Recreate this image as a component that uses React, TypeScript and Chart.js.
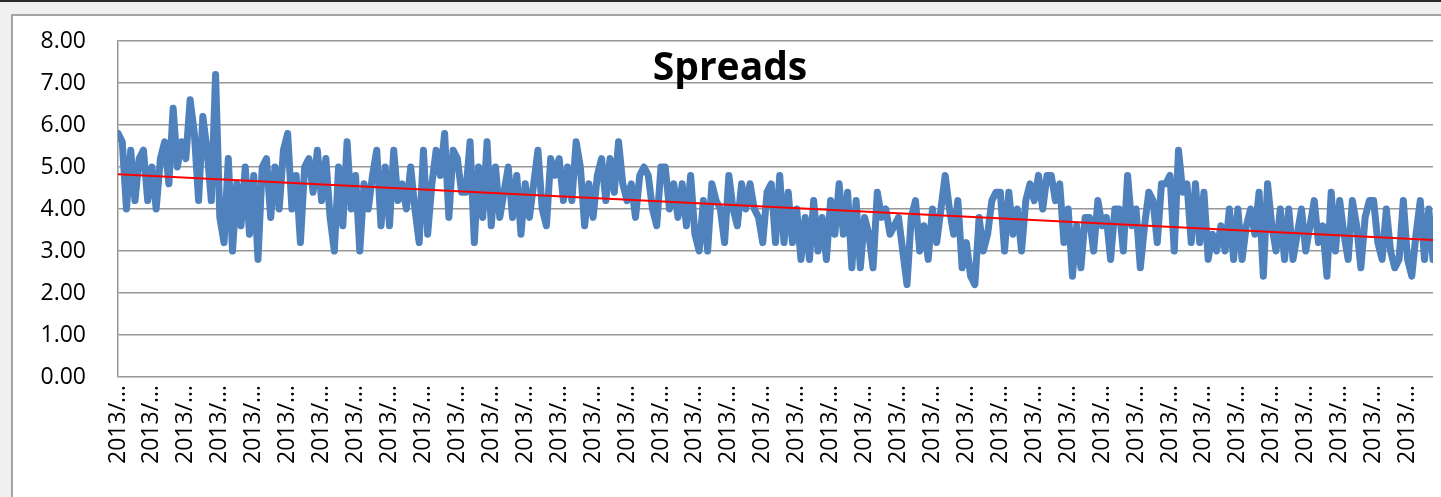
import React, { useEffect, useRef } from 'react';
import { Chart, registerables } from 'chart.js';

Chart.register(...registerables);

// Spread values, left to right (six stretches of the series)
const spreadsPart1 = [
  5.8, 5.6, 4.0, 5.4, 4.2, 5.2, 5.4, 4.2, 5.0, 4.0,
  5.2, 5.6, 4.6, 6.4, 5.0, 5.6, 5.2, 6.6, 5.8, 4.2,
  6.2, 5.4, 4.2, 7.2, 3.8, 3.2, 5.2, 3.0, 4.6, 3.6,
  5.0, 3.4, 4.8, 2.8, 5.0, 5.2, 3.8, 5.0, 4.0, 5.4,
  5.8, 4.0, 4.8, 3.2, 5.0, 5.2, 4.4, 5.4, 4.2, 5.2,
  3.8, 3.0,
];
const spreadsPart2 = [
  5.0, 3.6, 5.6, 4.0, 4.8, 3.0, 4.6, 4.0, 4.8, 5.4,
  3.6, 5.0, 3.6, 5.4, 4.2, 4.6, 4.0, 5.0, 4.0, 3.2,
  5.4, 3.4, 4.6, 5.4, 4.8, 5.8, 3.8, 5.4, 5.2, 4.4,
  4.4, 5.6, 3.2, 5.0, 3.8, 5.6, 3.6, 5.0, 3.8, 4.4,
  5.0, 3.8, 4.8, 3.4, 4.6, 3.8, 4.6, 5.4, 4.0, 3.6,
  5.2, 4.8,
];
const spreadsPart3 = [
  5.2, 4.2, 5.0, 4.2, 5.6, 5.0, 3.6, 4.6, 3.8, 4.8,
  5.2, 4.2, 5.2, 4.4, 5.6, 4.6, 4.2, 4.6, 3.8, 4.8,
  5.0, 4.8, 4.0, 3.6, 5.0, 5.0, 4.0, 4.6, 3.8, 4.6,
  3.6, 4.8, 3.4, 3.0, 4.2, 3.0, 4.6, 4.2, 4.0, 3.2,
  4.8, 4.0, 3.6, 4.6, 4.0, 4.6, 4.0, 3.8, 3.2, 4.4,
  4.6, 3.2,
];
const spreadsPart4 = [
  4.8, 3.2, 4.4, 3.2, 4.0, 2.8, 3.8, 2.8, 4.2, 3.0,
  3.8, 2.8, 4.2, 3.4, 4.6, 3.4, 4.4, 2.6, 4.2, 2.6,
  3.8, 3.4, 2.6, 4.4, 3.8, 4.0, 3.4, 3.6, 3.8, 3.0,
  2.2, 3.8, 4.2, 3.0, 3.6, 2.8, 4.0, 3.2, 4.0, 4.8,
  4.0, 3.4, 4.2, 2.6, 3.2, 2.4, 2.2, 3.8, 3.0, 3.4,
  4.2, 4.4,
];
const spreadsPart5 = [
  4.4, 3.0, 4.4, 3.4, 4.0, 3.0, 4.2, 4.6, 4.2, 4.8,
  4.0, 4.8, 4.8, 4.2, 4.6, 3.2, 4.0, 2.4, 3.6, 2.6,
  3.8, 3.8, 3.0, 4.2, 3.6, 3.8, 2.8, 4.0, 4.0, 3.0,
  4.8, 3.6, 4.0, 2.6, 3.6, 4.4, 4.2, 3.2, 4.6, 4.6,
  4.8, 3.0, 5.4, 4.4, 4.6, 3.2, 4.6, 3.2, 4.4, 2.8,
  3.4, 3.0,
];
const spreadsPart6 = [
  3.6, 3.0, 4.0, 2.8, 4.0, 2.8, 3.6, 4.0, 3.4, 4.4,
  2.4, 4.6, 3.6, 3.0, 4.0, 2.8, 4.0, 2.8, 3.4, 4.0,
  3.0, 3.6, 4.2, 3.2, 3.6, 2.4, 4.4, 3.0, 4.2, 3.4,
  2.8, 4.2, 3.6, 2.6, 3.8, 4.2, 4.2, 3.2, 2.8, 4.0,
  3.0, 2.6, 2.8, 4.2, 2.8, 2.4, 3.4, 4.2, 2.8, 4.0,
  2.8,
];

const spreads = [
  ...spreadsPart1, ...spreadsPart2, ...spreadsPart3,
  ...spreadsPart4, ...spreadsPart5, ...spreadsPart6,
];

// Linear trend line end points
const trendStart = 4.83;
const trendEnd = 3.26;

// Category tick labels (Excel truncates them), one every labelStep points
const labelStep = 8;
const tickLabels = [
  '2013/…', '2013/…', '2013/…', '2013/…', '2013/…', '2013/…', '2013/…', '2013/…',
  '2013/…', '2013/…', '2013/…', '2013/…', '2013/…', '2013/…', '2013/…', '2013/…',
  '2013/…', '2013/…', '2013/…', '2013/…', '2013/…', '2013/…', '2013/…', '2013/…',
  '2013/…', '2013/…', '2013/…', '2013/…', '2013/…', '2013/…', '2013/…', '2013/…',
  '2013/…', '2013/…', '2013/…', '2013/…', '2013/…', '2013/…', '2013/…',
];

const yMin = 0;
const yMax = 8;
const yStep = 1;
const chartTitle = 'Spreads';

export default function App() {
  const canvasRef = useRef<HTMLCanvasElement>(null);

  useEffect(() => {
    const canvas = canvasRef.current;
    if (!canvas) return;
    const font = { family: '"Open Sans", sans-serif', size: 23 };
    const chart = new Chart(canvas, {
      type: 'line',
      data: {
        datasets: [
          {
            label: 'Trend',
            data: [
              { x: 0, y: trendStart },
              { x: spreads.length - 1, y: trendEnd },
            ],
            borderColor: '#ff0000',
            borderWidth: 2,
            pointRadius: 0,
            order: 0,
          },
          {
            label: 'Spreads',
            data: spreads.map((y, x) => ({ x, y })),
            borderColor: '#4f81bd',
            borderWidth: 7,
            pointRadius: 0,
            borderJoinStyle: 'round',
            borderCapStyle: 'round',
            tension: 0,
            order: 1,
          },
        ],
      },
      options: {
        animation: false,
        responsive: false,
        maintainAspectRatio: false,
        events: [],
        layout: { padding: { left: 0, top: 41, right: 8, bottom: 0 } },
        plugins: {
          legend: { display: false },
          tooltip: { enabled: false },
          title: { display: false },
        },
        scales: {
          x: {
            type: 'linear',
            min: 0,
            max: spreads.length - 1,
            grid: { display: false, drawTicks: false },
            border: { display: false },
            afterBuildTicks: (s: any) => {
              s.ticks = tickLabels.map((_, k) => ({ value: k * labelStep }));
            },
            afterFit: (s: any) => {
              s.height = 120;
              s.paddingLeft = 0;
              s.paddingRight = 0;
            },
            ticks: {
              autoSkip: false,
              minRotation: 90,
              maxRotation: 90,
              padding: 8,
              color: '#000000',
              font,
              callback: (v: any) => tickLabels[Math.round(Number(v) / labelStep)] ?? '',
            },
          },
          y: {
            min: yMin,
            max: yMax,
            afterFit: (s: any) => {
              s.width = 118;
              s.paddingTop = 0;
              s.paddingBottom = 0;
            },
            grid: { color: '#979797', lineWidth: 1.5, drawTicks: false },
            border: { color: '#979797', width: 1.5 },
            ticks: {
              stepSize: yStep,
              padding: 32,
              color: '#000000',
              font,
              callback: (v: any) => Number(v).toFixed(2),
            },
          },
        },
      },
    });
    return () => chart.destroy();
  }, []);

  return (
    <div
      style={{
        position: 'absolute',
        left: 0,
        top: 0,
        width: 1441,
        height: 497,
        overflow: 'hidden',
        background: '#f0f0f0',
      }}
    >
      <div style={{ position: 'absolute', left: 0, top: 0, width: 1441, height: 2, background: '#2a2a2a' }} />
      <div
        style={{
          position: 'absolute',
          left: 11,
          top: 14,
          width: 1460,
          height: 520,
          background: '#ffffff',
          border: '2px solid #a3a3a3',
        }}
      />
      <canvas
        ref={canvasRef}
        width={1441}
        height={497}
        style={{ position: 'absolute', left: 0, top: 0, width: 1441, height: 497 }}
      />
      <div
        style={{
          position: 'absolute',
          left: 0,
          top: 45,
          width: 1460,
          textAlign: 'center',
          fontFamily: '"Open Sans", sans-serif',
          fontWeight: 'bold',
          fontSize: 39,
          lineHeight: '39px',
          color: '#000000',
        }}
      >
        {chartTitle}
      </div>
    </div>
  );
}
